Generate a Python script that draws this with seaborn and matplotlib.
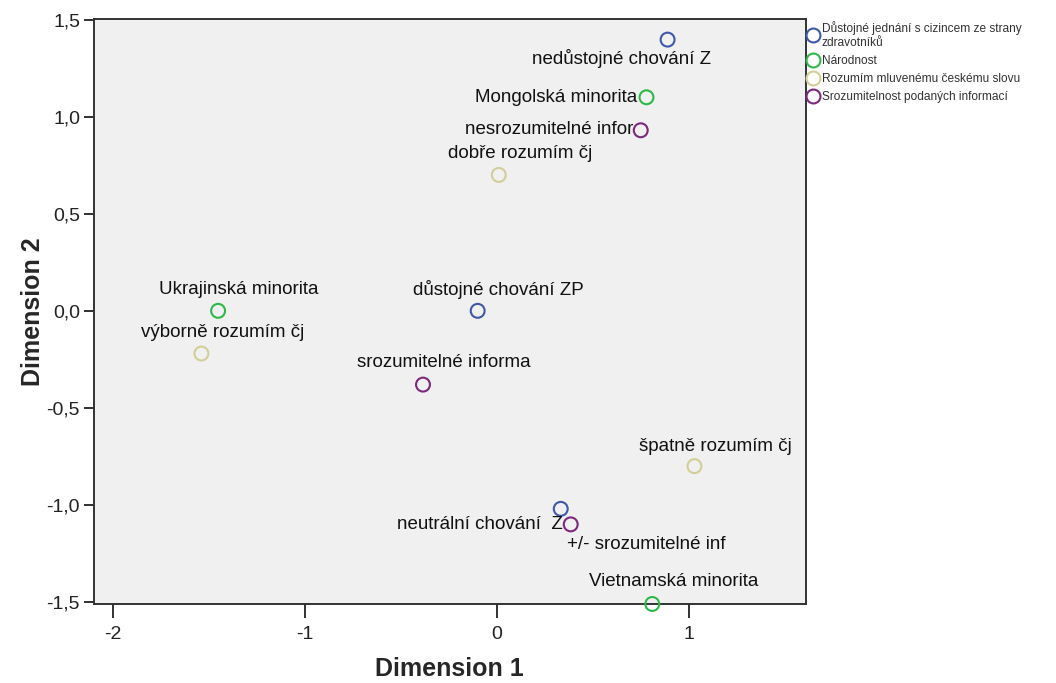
import matplotlib
matplotlib.use("Agg")
import matplotlib.pyplot as plt
from matplotlib.lines import Line2D
import seaborn as sns
import pandas as pd

# ---- data ----
groups = [
    "Důstojné jednání s cizincem ze strany\nzdravotníků",
    "Národnost",
    "Rozumím mluvenému českému slovu",
    "Srozumitelnost podaných informací",
]
colors = ["#3E58AC", "#2EB848", "#D3CE97", "#7C287D"]

labels = [
    "nedůstojné chování Z", "důstojné chování ZP", "neutrální chování  Z",
    "Mongolská minorita", "Ukrajinská minorita", "Vietnamská minorita",
    "dobře rozumím čj", "výborně rozumím čj", "špatně rozumím čj",
    "nesrozumitelné infor", "srozumitelné informa", "+/- srozumitelné inf",
]
dim1 = [0.89, -0.10, 0.333, 0.78, -1.453, 0.81, 0.01, -1.54, 1.03, 0.75, -0.385, 0.385]
dim2 = [1.397, 0.0, -1.02, 1.10, 0.0, -1.51, 0.70, -0.22, -0.80, 0.93, -0.38, -1.10]
group_idx = [0, 0, 0, 1, 1, 1, 2, 2, 2, 3, 3, 3]

xticks = [-2, -1, 0, 1]
yticks = [-1.5, -1.0, -0.5, 0.0, 0.5, 1.0, 1.5]

# ---- layout (label offsets in pixels, alignment) ----
label_layout = [
    (-46, -19, "center"), (21, 21, "center"), (2, -16, "right"),
    (-9, 0, "right"), (21, 21, "center"), (21, 22, "center"),
    (21, 21, "center"), (21, 21, "center"), (21, 20, "center"),
    (-7, 1, "right"), (21, 22, "center"), (76, -20, "center"),
]

df = pd.DataFrame({
    "Dimension 1": dim1,
    "Dimension 2": dim2,
    "group": [groups[i] for i in group_idx],
    "label": labels,
})

sns.set_style("white")
plt.rcParams["font.family"] = ["Liberation Sans", "DejaVu Sans"]

fig = plt.figure(figsize=(10.56, 6.83), dpi=100)
ax = fig.add_axes([0.089, 0.1157, 0.674, 0.857])
ax.set_facecolor("#F0F0F0")

sns.scatterplot(data=df, x="Dimension 1", y="Dimension 2", hue="group",
                hue_order=groups, palette=colors, s=100, ax=ax, legend=False,
                linewidth=1.5, clip_on=False, zorder=3)
pts = ax.collections[0]
fc = pts.get_facecolors()
pts.set_edgecolors(fc)
pts.set_facecolors("none")

for (x, y, t), (dx, dy, ha) in zip(zip(dim1, dim2, labels), label_layout):
    ax.annotate(t, (x, y), xytext=(dx, dy), textcoords="offset pixels",
                ha=ha, va="center", fontsize=13.5, color="#111111", zorder=4)

ax.set_xlim(-2.1, 1.61)
ax.set_ylim(-1.51, 1.505)
ax.set_xticks(xticks)
ax.set_xticklabels([str(v) for v in xticks])
ax.set_yticks(yticks)
ax.set_yticklabels([f"{v:.1f}".replace(".", ",") for v in yticks])
ax.tick_params(axis="both", direction="out", length=7, width=1.3,
               color="#222222", labelsize=14, labelcolor="#222222", pad=3,
               bottom=True, left=True)
ax.tick_params(axis="x", length=10, pad=6)
for sp in ax.spines.values():
    sp.set_color("#333333")
    sp.set_linewidth(1.4)
    sp.set_visible(True)

ax.set_xlabel("Dimension 1", fontsize=18, fontweight="bold", labelpad=10)
ax.set_ylabel("Dimension 2", fontsize=18, fontweight="bold", labelpad=1)

handles = [Line2D([0], [0], marker="o", linestyle="none", markersize=10,
                  markerfacecolor="none", markeredgecolor=c, markeredgewidth=1.5)
           for c in colors]
leg = fig.legend(handles, groups, loc="upper left", bbox_to_anchor=(0.759, 0.976),
                 frameon=False, fontsize=8.6, handletextpad=0.1,
                 labelspacing=0.5, handlelength=1.2, borderaxespad=0)
for t in leg.get_texts():
    t.set_color("#333333")

fig.savefig("out.png", dpi=100)
